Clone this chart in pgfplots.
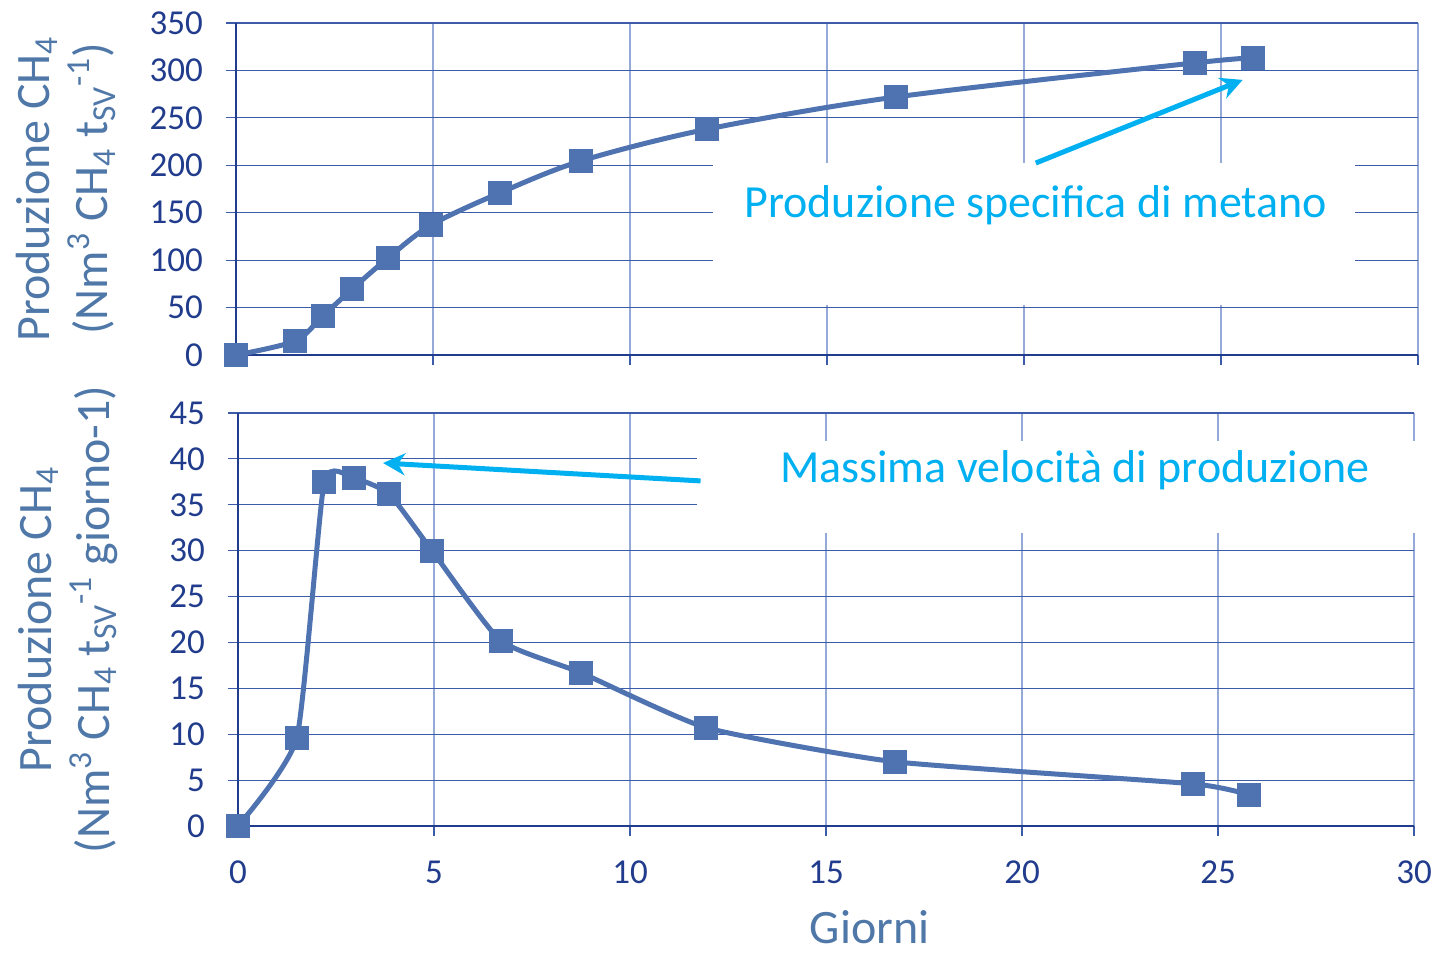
\documentclass[border=0pt]{standalone}
\usepackage{pgfplots}
\pgfplotsset{compat=1.18}
\usetikzlibrary{arrows.meta}
\usepackage{fontspec}
\setmainfont{Carlito}

\definecolor{serie}{RGB}{79,114,176}
\definecolor{navy}{RGB}{33,60,140}
\definecolor{hgrid}{RGB}{60,92,170}
\definecolor{vgrid}{RGB}{150,170,215}
\definecolor{lab}{RGB}{79,120,168}
\definecolor{nota}{RGB}{0,176,240}

\pgfplotsset{
  giorni/.style={
    scale only axis,
    xmin=0, xmax=30,
    xtick={0,5,...,30},
    axis lines=left,
    axis line style={-,navy,line width=0.8pt},
    tick align=outside,
    major tick length=5pt,
    tick style={hgrid,line width=0.6pt},
    grid=major,
    x grid style={vgrid,line width=0.6pt},
    y grid style={hgrid,line width=0.6pt},
    ticklabel style={navy,font=\fontsize{17.5}{20}\selectfont},
    yticklabel style={xshift=-8pt},
    xticklabel style={yshift=-9pt},
    /pgf/number format/assume math mode=true,
    label style={lab,font=\fontsize{24}{29}\selectfont,align=center},
    clip=false,
  },
  curva/.style={
    serie, line width=2.5pt, smooth,
    mark=square*, mark size=5.75pt,
    mark options={fill=serie,draw=serie,line width=0pt},
  },
}

\begin{document}
\begin{tikzpicture}
% grafico superiore: produzione cumulata
\begin{axis}[giorni,
  name=sopra,
  at={(-1pt,235.5pt)}, anchor=south west,
  width=591pt, height=166pt,
  ymin=0, ymax=350,
  ytick={0,50,...,350},
  xticklabels={},
  ylabel={Produzione CH\textsubscript{4}\\(Nm\textsuperscript{3} CH\textsubscript{4} t\textsubscript{SV}\textsuperscript{-1})},
  ylabel style={at={(axis description cs:-0.1438,0.5)},anchor=center,rotate=0},
]
\addplot[curva,tension=0.5] coordinates {
  (0,0) (1.5,14.8) (2.2,41) (2.95,69.6) (3.85,102) (4.95,137)
  (6.7,171) (8.75,204.5) (11.95,238) (16.75,272) (24.35,308) (25.8,313)
};
\fill[white] (axis cs:12.1,202.5) rectangle (axis cs:28.4,52.5);
\node[nota,font=\fontsize{23}{26}\selectfont] at (axis cs:20.3,158) {Produzione specifica di metano};
\draw[nota,line width=2.5pt,-{Stealth[length=11pt,width=11pt]}] (axis cs:20.3,202.4) -- (axis cs:25.55,290);
\end{axis}

% grafico inferiore: velocita di produzione
\begin{axis}[giorni,
  name=sotto,
  at={(0,0)}, anchor=south west,
  width=588pt, height=206.5pt,
  ymin=0, ymax=45,
  ytick={0,5,...,45},
  xlabel={Giorni},
  xlabel style={at={(axis description cs:0.537,-0.245)},anchor=center,inner sep=0pt},
  ylabel={Produzione CH\textsubscript{4}\\(Nm\textsuperscript{3} CH\textsubscript{4} t\textsubscript{SV}\textsuperscript{-1} giorno-1)},
  ylabel style={at={(axis description cs:-0.1446,0.5)},anchor=center,rotate=0},
]
\addplot[curva,tension=0.3] coordinates {
  (0,0) (1.5,9.6) (2.2,37.5) (2.95,37.9) (3.85,36.2) (4.95,30)
  (6.7,20.2) (8.75,16.7) (11.95,10.7) (16.75,7.0) (24.35,4.6) (25.8,3.4)
};
\fill[white] (axis cs:11.7,42) rectangle (axis cs:30.5,31.9);
\node[nota,font=\fontsize{23}{26}\selectfont] at (axis cs:21.35,38.8) {Massima velocità di produzione};
\draw[nota,line width=2.5pt,-{Stealth[length=11pt,width=11pt]}] (axis cs:11.8,37.6) -- (axis cs:3.7,39.55);
\end{axis}
\pgfresetboundingbox
\path (-119pt,-65pt) rectangle (600pt,413pt);
\end{tikzpicture}
\end{document}
